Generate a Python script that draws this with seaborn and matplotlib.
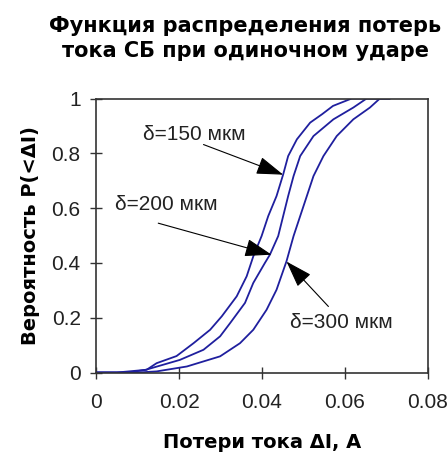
import matplotlib
matplotlib.use("Agg")
import matplotlib.pyplot as plt
import seaborn as sns

# значения (x - потери тока, А; p - вероятность)
x_150 = [0.0, 0.005, 0.0122, 0.0146, 0.0194, 0.0235, 0.0275, 0.0303, 0.0339, 0.0363, 0.0379,
         0.0399, 0.0415, 0.0435, 0.0451, 0.0463, 0.0484, 0.0516, 0.0545, 0.0571, 0.0616, 0.0708]
p_150 = [0.0, 0.0, 0.01, 0.034, 0.06, 0.107, 0.156, 0.205, 0.278, 0.351, 0.424,
         0.498, 0.571, 0.644, 0.723, 0.79, 0.851, 0.912, 0.943, 0.973, 1.0, 1.0]

x_200 = [0.0, 0.008, 0.012, 0.0202, 0.0259, 0.0299, 0.0323, 0.0359, 0.0379, 0.0407, 0.0419,
         0.0439, 0.0451, 0.0463, 0.0476, 0.0492, 0.0524, 0.0572, 0.062, 0.0652, 0.0708]
p_200 = [0.0, 0.0, 0.01, 0.046, 0.083, 0.132, 0.18, 0.254, 0.327, 0.4, 0.43,
         0.498, 0.571, 0.644, 0.717, 0.79, 0.863, 0.924, 0.967, 1.0, 1.0]

x_300 = [0.0, 0.01, 0.0146, 0.0219, 0.0299, 0.0347, 0.0379, 0.0411, 0.0435, 0.0459, 0.0476,
         0.0492, 0.0508, 0.0524, 0.0548, 0.058, 0.062, 0.066, 0.0684, 0.0708]
p_300 = [0.0, 0.0, 0.004, 0.022, 0.059, 0.107, 0.156, 0.229, 0.302, 0.406, 0.498,
         0.571, 0.644, 0.717, 0.79, 0.863, 0.924, 0.967, 1.0, 1.0]

x_ticks = [0, 0.02, 0.04, 0.06, 0.08]
x_tick_labels = ["0", "0.02", "0.04", "0.06", "0.08"]
y_ticks = [0, 0.2, 0.4, 0.6, 0.8, 1]
y_tick_labels = ["0", "0.2", "0.4", "0.6", "0.8", "1"]

labels = ["δ=150 мкм", "δ=200 мкм", "δ=300 мкм"]

sns.set_style("ticks")
plt.rcParams['font.family'] = ['Liberation Sans', 'DejaVu Sans']
bold_font = ['DejaVu Sans']

line_color = "#1f1f9e"
frame_color = "#333333"
text_color = "#222222"

fig = plt.figure(figsize=(4.48, 4.54), dpi=100)
ax = fig.add_axes([0.2143, 0.1795, 0.7411, 0.6035])

for xs, ps in [(x_150, p_150), (x_200, p_200), (x_300, p_300)]:
    sns.lineplot(x=xs, y=ps, ax=ax, color=line_color, lw=1.3, sort=False, estimator=None)

ax.set_xlim(0, 0.08)
ax.set_ylim(0, 1)
ax.set_xticks(x_ticks)
ax.set_xticklabels(x_tick_labels)
ax.set_yticks(y_ticks)
ax.set_yticklabels(y_tick_labels)
ax.tick_params(axis='both', direction='inout', length=8, width=1, color=frame_color,
               labelsize=15, labelcolor=text_color)
ax.tick_params(axis='x', pad=11)
ax.tick_params(axis='y', pad=7)
for s in ax.spines.values():
    s.set_color(frame_color)
    s.set_linewidth(1.2)

ax.set_xlabel("Потери тока ΔI, А", fontsize=14, fontweight='bold', family=bold_font,
              color='black', labelpad=15)
ax.set_ylabel("Вероятность P(<ΔI)", fontsize=14, fontweight='bold', family=bold_font,
              color='black', labelpad=8)
fig.text(0.548, 0.965, "Функция распределения потерь\nтока СБ при одиночном ударе",
         ha='center', va='top', fontsize=15, fontweight='bold', family=bold_font,
         color='black', linespacing=1.35)

arrow = dict(arrowstyle='-|>,head_length=1.2,head_width=0.4', mutation_scale=14,
             color='black', lw=0.8, shrinkA=0, shrinkB=0)
ax.annotate("", xy=(0.0451, 0.722), xytext=(0.0259, 0.832), arrowprops=arrow)
ax.annotate("", xy=(0.0423, 0.43), xytext=(0.015, 0.545), arrowprops=arrow)
ax.annotate("", xy=(0.0459, 0.405), xytext=(0.056, 0.241), arrowprops=arrow)
ax.text(0.0113, 0.868, labels[0], fontsize=15, va='center', ha='left', color=text_color)
ax.text(0.0046, 0.612, labels[1], fontsize=15, va='center', ha='left', color=text_color)
ax.text(0.0467, 0.181, labels[2], fontsize=15, va='center', ha='left', color=text_color)

fig.savefig("out.png", dpi=100)
